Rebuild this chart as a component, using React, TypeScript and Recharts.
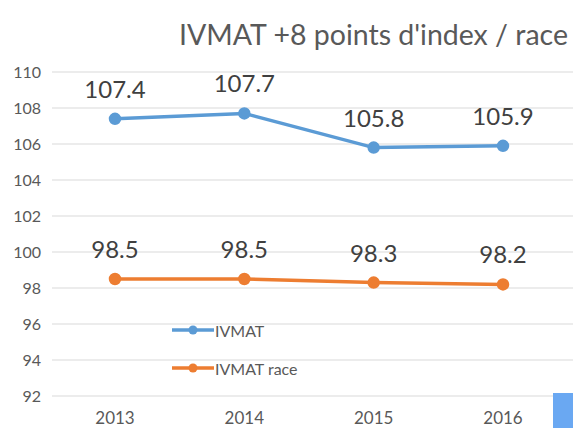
import { LineChart, Line, XAxis, YAxis, CartesianGrid, LabelList } from "recharts";

const years = ["2013", "2014", "2015", "2016"];
const ivmat = [107.4, 107.7, 105.8, 105.9];
const ivmatRace = [98.5, 98.5, 98.3, 98.2];
const yTicks = [92, 94, 96, 98, 100, 102, 104, 106, 108, 110];

const data = years.map((year, i) => ({
  year,
  ivmat: ivmat[i],
  race: ivmatRace[i],
}));

const font = "Lato, 'Open Sans', sans-serif";

const legendItems = [
  { label: "IVMAT", color: "#5b9bd5" },
  { label: "IVMAT race", color: "#ed7d31" },
];

function ChartLegend() {
  return (
    <div style={{ position: "absolute", left: 172, top: 311, fontFamily: font }}>
      {legendItems.map((it) => (
        <div key={it.label} style={{ display: "flex", alignItems: "center", height: 38 }}>
          <svg width={42} height={10}>
            <line x1={0} y1={5} x2={42} y2={5} stroke={it.color} strokeWidth={3.5} />
            <circle cx={21} cy={5} r={4.5} fill={it.color} />
          </svg>
          <span style={{ fontSize: 16, color: "#595959", marginLeft: 1 }}>{it.label}</span>
        </div>
      ))}
    </div>
  );
}

export default function App() {
  return (
    <div style={{ position: "absolute", left: 0, top: 0, width: 573, height: 428, background: "#fff", overflow: "hidden" }}>
      <div
        style={{
          position: "absolute",
          right: 5,
          top: 17,
          fontFamily: font,
          fontSize: 28.5,
          color: "#595959",
          whiteSpace: "nowrap",
        }}
      >
        IVMAT +8 points d'index / race
      </div>
      <LineChart width={573} height={428} data={data} margin={{ top: 72, right: 0, left: 0, bottom: 2 }}>
        <CartesianGrid vertical={false} stroke="#d9d9d9" />
        <XAxis
          dataKey="year"
          axisLine={false}
          tickLine={false}
          height={30}
          padding={{ left: 63, right: 70 }}
          tick={{ fontSize: 17, fill: "#595959", fontFamily: font }}
          tickMargin={10}
        />
        <YAxis
          domain={[92, 110]}
          ticks={yTicks}
          width={52}
          axisLine={false}
          tickLine={false}
          tick={{ fontSize: 16, fill: "#595959", fontFamily: font }}
          tickMargin={5}
        />
        <Line
          dataKey="ivmat"
          stroke="#5b9bd5"
          strokeWidth={3.5}
          dot={{ r: 4.5, fill: "#5b9bd5", stroke: "#5b9bd5" }}
          isAnimationActive={false}
        >
          <LabelList dataKey="ivmat" position="top" offset={21} style={{ fontSize: 24, fill: "#404040", fontFamily: font }} />
        </Line>
        <Line
          dataKey="race"
          stroke="#ed7d31"
          strokeWidth={3.5}
          dot={{ r: 4.5, fill: "#ed7d31", stroke: "#ed7d31" }}
          isAnimationActive={false}
        >
          <LabelList dataKey="race" position="top" offset={21} style={{ fontSize: 24, fill: "#404040", fontFamily: font }} />
        </Line>
      </LineChart>
      <ChartLegend />
      <div style={{ position: "absolute", left: 553, top: 393, width: 20, height: 35, background: "#6aa8f2" }} />
    </div>
  );
}
